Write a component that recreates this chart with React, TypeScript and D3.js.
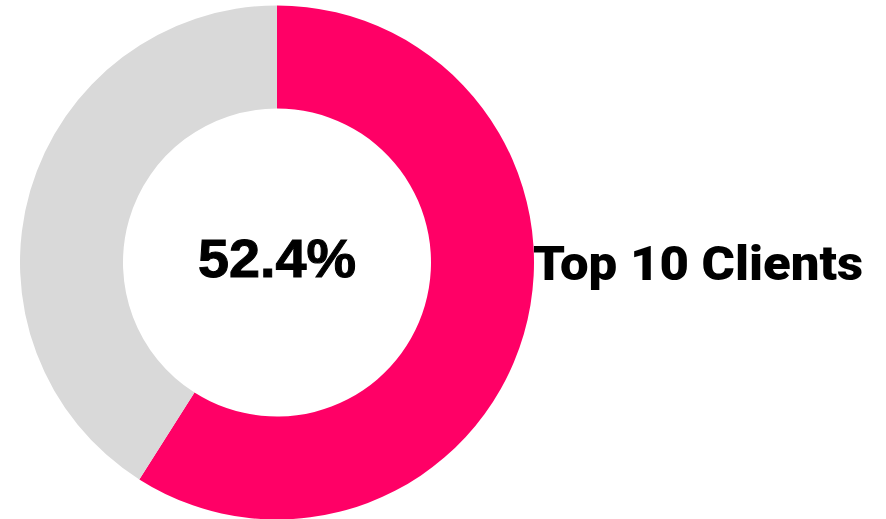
import React from "react";
import * as d3 from "d3";

const categories = ["Top 10 Clients", "Others"];
const values = [59, 41];
const colors = ["#FF0066", "#D9D9D9"];
const centerLabel = "52.4%";
const sideLabel = "Top 10 Clients";

const W = 886;
const H = 519;

export default function App() {
  const cx = 277;
  const cy = 262.5;
  const outer = 257;
  const inner = 154;
  const pie = d3.pie<number>().sort(null).value((d) => d)(values);
  const arc = d3.arc<d3.PieArcDatum<number>>().innerRadius(inner).outerRadius(outer);
  return (
    <svg width={W} height={H} style={{ position: "absolute", left: 0, top: 0 }}>
      <g transform={`translate(${cx},${cy})`}>
        {pie.map((p, i) => (
          <path key={categories[i]} d={arc(p) || ""} fill={colors[i]} />
        ))}
        <text
          x={-79}
          y={14}
          fontFamily="'Liberation Sans', Arial, sans-serif"
          fontWeight="bold"
          fontSize={53}
          textLength={158}
          lengthAdjust="spacingAndGlyphs"
          stroke="#000"
          strokeWidth={1}
          fill="#000"
        >
          {centerLabel}
        </text>
      </g>
      <text
        x={533}
        y={280}
        fontFamily="Roboto, 'Open Sans', sans-serif"
        fontWeight={900}
        fontSize={48}
        textLength={330}
        lengthAdjust="spacingAndGlyphs"
        fill="#000"
      >
        {sideLabel}
      </text>
    </svg>
  );
}
